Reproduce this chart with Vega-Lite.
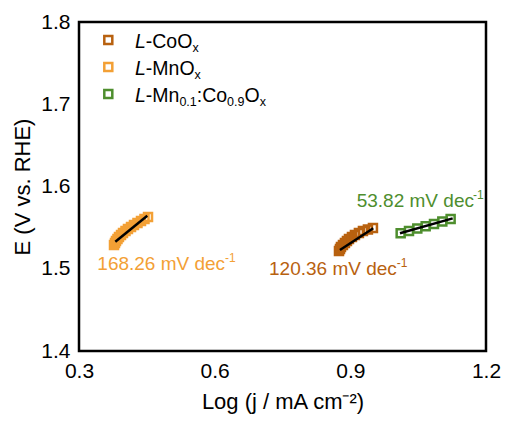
{
  "$schema": "https://vega.github.io/schema/vega-lite/v6.json",
  "width": 407,
  "height": 329,
  "autosize": "none",
  "padding": {"left": 79, "top": 22, "right": 21, "bottom": 72},
  "background": "white",
  "datasets": {
    "pts": [
      {"series": "L-CoOx", "logj": 0.8749, "E": 1.5216},
      {"series": "L-CoOx", "logj": 0.8771, "E": 1.524},
      {"series": "L-CoOx", "logj": 0.8793, "E": 1.5264},
      {"series": "L-CoOx", "logj": 0.8837, "E": 1.5289},
      {"series": "L-CoOx", "logj": 0.8881, "E": 1.5313},
      {"series": "L-CoOx", "logj": 0.8925, "E": 1.5337},
      {"series": "L-CoOx", "logj": 0.897, "E": 1.5362},
      {"series": "L-CoOx", "logj": 0.9036, "E": 1.5386},
      {"series": "L-CoOx", "logj": 0.9102, "E": 1.541},
      {"series": "L-CoOx", "logj": 0.919, "E": 1.5435},
      {"series": "L-CoOx", "logj": 0.9279, "E": 1.5459},
      {"series": "L-CoOx", "logj": 0.9389, "E": 1.5477},
      {"series": "L-CoOx", "logj": 0.95, "E": 1.5496},
      {"series": "L-MnOx", "logj": 0.3774, "E": 1.5289},
      {"series": "L-MnOx", "logj": 0.3796, "E": 1.5313},
      {"series": "L-MnOx", "logj": 0.3818, "E": 1.5337},
      {"series": "L-MnOx", "logj": 0.3851, "E": 1.5362},
      {"series": "L-MnOx", "logj": 0.3884, "E": 1.5386},
      {"series": "L-MnOx", "logj": 0.3929, "E": 1.541},
      {"series": "L-MnOx", "logj": 0.3973, "E": 1.5435},
      {"series": "L-MnOx", "logj": 0.4028, "E": 1.5459},
      {"series": "L-MnOx", "logj": 0.4083, "E": 1.5483},
      {"series": "L-MnOx", "logj": 0.415, "E": 1.5508},
      {"series": "L-MnOx", "logj": 0.4216, "E": 1.5532},
      {"series": "L-MnOx", "logj": 0.4293, "E": 1.5556},
      {"series": "L-MnOx", "logj": 0.4371, "E": 1.5581},
      {"series": "L-MnOx", "logj": 0.4448, "E": 1.5605},
      {"series": "L-MnOx", "logj": 0.4526, "E": 1.5629},
      {"series": "L-Mn0.1:Co0.9Ox", "logj": 1.0113, "E": 1.5431},
      {"series": "L-Mn0.1:Co0.9Ox", "logj": 1.0297, "E": 1.5459},
      {"series": "L-Mn0.1:Co0.9Ox", "logj": 1.0481, "E": 1.5488},
      {"series": "L-Mn0.1:Co0.9Ox", "logj": 1.0666, "E": 1.5516},
      {"series": "L-Mn0.1:Co0.9Ox", "logj": 1.085, "E": 1.5544},
      {"series": "L-Mn0.1:Co0.9Ox", "logj": 1.1034, "E": 1.5573},
      {"series": "L-Mn0.1:Co0.9Ox", "logj": 1.1218, "E": 1.5605}
    ],
    "fits": [
      {"series": "L-CoOx", "logj": 0.877, "E": 1.5228},
      {"series": "L-CoOx", "logj": 0.9507, "E": 1.5492},
      {"series": "L-MnOx", "logj": 0.3803, "E": 1.5329},
      {"series": "L-MnOx", "logj": 0.451, "E": 1.5645},
      {"series": "L-Mn0.1:Co0.9Ox", "logj": 1.0098, "E": 1.5431},
      {"series": "L-Mn0.1:Co0.9Ox", "logj": 1.1263, "E": 1.5613}
    ],
    "slopeText": [
      {"series": "L-MnOx", "kind": "main", "text": "168.26 mV dec", "logj": 0.3405, "E": 1.4985},
      {"series": "L-MnOx", "kind": "sup", "text": "-1", "logj": 0.6228, "E": 1.4985},
      {"series": "L-CoOx", "kind": "main", "text": "120.36 mV dec", "logj": 0.7202, "E": 1.4924},
      {"series": "L-CoOx", "kind": "sup", "text": "-1", "logj": 1.0025, "E": 1.4924},
      {"series": "L-Mn0.1:Co0.9Ox", "kind": "main", "text": "53.82 mV dec", "logj": 0.9141, "E": 1.5747},
      {"series": "L-Mn0.1:Co0.9Ox", "kind": "sup", "text": "-1", "logj": 1.1713, "E": 1.5747}
    ],
    "legendSym": [
      {"series": "L-CoOx", "logj": 0.3648, "E": 1.7781},
      {"series": "L-MnOx", "logj": 0.3648, "E": 1.7453},
      {"series": "L-Mn0.1:Co0.9Ox", "logj": 0.3648, "E": 1.7125}
    ],
    "legendText": [
      {"kind": "italic", "text": "L", "logj": 0.4238, "E": 1.7678},
      {"kind": "normal", "text": "-CoO", "logj": 0.4477, "E": 1.7678},
      {"kind": "sub", "text": "x", "logj": 0.5508, "E": 1.7678},
      {"kind": "italic", "text": "L", "logj": 0.4238, "E": 1.7356},
      {"kind": "normal", "text": "-MnO", "logj": 0.4477, "E": 1.7356},
      {"kind": "sub", "text": "x", "logj": 0.5556, "E": 1.7356},
      {"kind": "italic", "text": "L", "logj": 0.4238, "E": 1.7027},
      {"kind": "normal", "text": "-Mn", "logj": 0.4477, "E": 1.7027},
      {"kind": "sub", "text": "0.1", "logj": 0.522, "E": 1.7027},
      {"kind": "normal", "text": ":Co", "logj": 0.5605, "E": 1.7027},
      {"kind": "sub", "text": "0.9", "logj": 0.6275, "E": 1.7027},
      {"kind": "normal", "text": "O", "logj": 0.666, "E": 1.7027},
      {"kind": "sub", "text": "x", "logj": 0.6996, "E": 1.7027}
    ],
    "xTicks": [
      {"logj": 0.3, "kind": "major"},
      {"logj": 0.45, "kind": "minor"},
      {"logj": 0.6, "kind": "major"},
      {"logj": 0.75, "kind": "minor"},
      {"logj": 0.9, "kind": "major"},
      {"logj": 1.05, "kind": "minor"},
      {"logj": 1.2, "kind": "major"}
    ],
    "yTicks": [
      {"E": 1.4, "kind": "major"},
      {"E": 1.45, "kind": "minor"},
      {"E": 1.5, "kind": "major"},
      {"E": 1.55, "kind": "minor"},
      {"E": 1.6, "kind": "major"},
      {"E": 1.65, "kind": "minor"},
      {"E": 1.7, "kind": "major"},
      {"E": 1.75, "kind": "minor"},
      {"E": 1.8, "kind": "major"}
    ]
  },
  "encoding": {
    "x": {
      "field": "logj", "type": "quantitative",
      "scale": {"domain": [0.3, 1.2], "nice": false, "zero": false},
      "axis": {
        "values": [0.3, 0.6, 0.9, 1.2],
        "format": ".1f",
        "ticks": false,
        "labelPadding": 9,
        "labelFlush": false,
        "labelOverlap": false,
        "title": "Log (j / mA cm⁻²)",
        "titlePadding": 10
      }
    },
    "y": {
      "field": "E", "type": "quantitative",
      "scale": {"domain": [1.4, 1.8], "nice": false, "zero": false},
      "axis": {
        "values": [1.4, 1.5, 1.6, 1.7, 1.8],
        "format": ".1f",
        "ticks": false,
        "labelPadding": 9,
        "labelFlush": false,
        "labelOverlap": false,
        "title": "E (V vs. RHE)",
        "titlePadding": 6
      }
    }
  },
  "layer": [
    {
      "data": {"name": "xTicks"},
      "transform": [{"filter": "datum.kind === 'major'"}],
      "mark": {"type": "tick", "orient": "vertical", "color": "black", "thickness": 2, "size": 12, "clip": true, "opacity": 1},
      "encoding": {"y": {"datum": 1.4}}
    },
    {
      "data": {"name": "xTicks"},
      "transform": [{"filter": "datum.kind === 'minor'"}],
      "mark": {"type": "tick", "orient": "vertical", "color": "black", "thickness": 2, "size": 8, "clip": true, "opacity": 1},
      "encoding": {"y": {"datum": 1.4}}
    },
    {
      "data": {"name": "yTicks"},
      "transform": [{"filter": "datum.kind === 'major'"}],
      "mark": {"type": "tick", "orient": "horizontal", "color": "black", "thickness": 2, "size": 12, "clip": true, "opacity": 1},
      "encoding": {"x": {"datum": 0.3}}
    },
    {
      "data": {"name": "yTicks"},
      "transform": [{"filter": "datum.kind === 'minor'"}],
      "mark": {"type": "tick", "orient": "horizontal", "color": "black", "thickness": 2, "size": 8, "clip": true, "opacity": 1},
      "encoding": {"x": {"datum": 0.3}}
    },
    {
      "data": {"name": "pts"},
      "mark": {"type": "point", "shape": "square", "filled": false, "size": 64, "strokeWidth": 2.5, "opacity": 1},
      "encoding": {
        "color": {"field": "series", "type": "nominal", "legend": null,
          "scale": {"domain": ["L-CoOx", "L-MnOx", "L-Mn0.1:Co0.9Ox"], "range": ["#B8610F", "#F3A035", "#4E8E2E"]}}
      }
    },
    {
      "data": {"name": "fits"},
      "mark": {"type": "line", "color": "black", "strokeWidth": 2.5},
      "encoding": {"detail": {"field": "series", "type": "nominal"}}
    },
    {
      "data": {"name": "slopeText"},
      "transform": [{"filter": "datum.kind === 'main'"}],
      "mark": {"type": "text", "align": "left", "baseline": "alphabetic", "fontSize": 19},
      "encoding": {
        "text": {"field": "text"},
        "color": {"field": "series", "type": "nominal", "legend": null,
          "scale": {"domain": ["L-CoOx", "L-MnOx", "L-Mn0.1:Co0.9Ox"], "range": ["#B8610F", "#F3A035", "#4E8E2E"]}}
      }
    },
    {
      "data": {"name": "slopeText"},
      "transform": [{"filter": "datum.kind === 'sup'"}],
      "mark": {"type": "text", "align": "left", "baseline": "alphabetic", "fontSize": 12, "dy": -8},
      "encoding": {
        "text": {"field": "text"},
        "color": {"field": "series", "type": "nominal", "legend": null,
          "scale": {"domain": ["L-CoOx", "L-MnOx", "L-Mn0.1:Co0.9Ox"], "range": ["#B8610F", "#F3A035", "#4E8E2E"]}}
      }
    },
    {
      "data": {"name": "legendSym"},
      "mark": {"type": "point", "shape": "square", "filled": false, "size": 64, "strokeWidth": 2.5, "opacity": 1},
      "encoding": {
        "color": {"field": "series", "type": "nominal", "legend": null,
          "scale": {"domain": ["L-CoOx", "L-MnOx", "L-Mn0.1:Co0.9Ox"], "range": ["#B8610F", "#F3A035", "#4E8E2E"]}}
      }
    },
    {
      "data": {"name": "legendText"},
      "transform": [{"filter": "datum.kind === 'italic'"}],
      "mark": {"type": "text", "align": "left", "baseline": "alphabetic", "fontSize": 19.5, "fontStyle": "italic", "color": "black"},
      "encoding": {"text": {"field": "text"}}
    },
    {
      "data": {"name": "legendText"},
      "transform": [{"filter": "datum.kind === 'normal'"}],
      "mark": {"type": "text", "align": "left", "baseline": "alphabetic", "fontSize": 19.5, "color": "black"},
      "encoding": {"text": {"field": "text"}}
    },
    {
      "data": {"name": "legendText"},
      "transform": [{"filter": "datum.kind === 'sub'"}],
      "mark": {"type": "text", "align": "left", "baseline": "alphabetic", "fontSize": 12.5, "dy": 4, "color": "black"},
      "encoding": {"text": {"field": "text"}}
    }
  ],
  "config": {
    "font": "Liberation Sans",
    "view": {"stroke": "black", "strokeWidth": 2.5},
    "axis": {
      "domain": false,
      "grid": false,
      "labelFont": "Liberation Sans",
      "labelFontSize": 21,
      "labelColor": "black",
      "titleFont": "Liberation Sans",
      "titleFontSize": 22,
      "titleFontWeight": "normal",
      "titleColor": "black"
    }
  }
}
